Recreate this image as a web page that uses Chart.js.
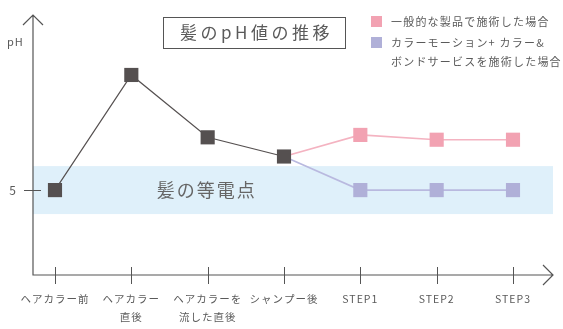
<!DOCTYPE html>
<html lang="ja">
<head>
<meta charset="utf-8">
<title>髪のpH値の推移</title>
<script src="https://cdn.jsdelivr.net/npm/chart.js@4/dist/chart.umd.min.js"></script>
<style>
  html, body { margin: 0; padding: 0; background: #fff; }
  #wrap { width: 563px; height: 329px; }
</style>
</head>
<body>
<div id="wrap"><canvas id="phChart" width="563" height="329"></canvas></div>
<script>
// Stages of the treatment (x axis)
const categories = [
  ['ヘアカラー前'],
  ['ヘアカラー', '直後'],
  ['ヘアカラーを', '流した直後'],
  ['シャンプー後'],
  ['STEP1'],
  ['STEP2'],
  ['STEP3']
];

// pH values per stage
const baseValues = [5, 7.4, 6.1, 5.7, null, null, null];
const regularValues = [null, null, null, 5.7, 6.15, 6.05, 6.05];
const bondValues = [null, null, null, 5.7, 5, 5, 5];

// y axis ticks and range
const yTicks = [5];
const yRange = [3.23, 8.65];
const xRange = [-0.288, 6.524];

// isoelectric band
const isoBand = [4.5, 5.5];
const isoLabel = '髪の等電点';

const chartTitle = '髪のpH値の推移';
const yAxisTitle = 'pH';
const legendLabels = [
  ['一般的な製品で施術した場合'],
  ['カラーモーション+ カラー&', 'ボンドサービスを施術した場合']
];

const FONT = '"Noto Sans CJK JP", "Noto Sans", sans-serif';
const TEXT = '#5a5a5a';
const AXIS = '#555555';

function toPoints(values) {
  const pts = [];
  values.forEach((v, i) => {
    if (v !== null) pts.push({ x: i, y: v });
  });
  return pts;
}

// pink/purple series start from the shared dark point, so hide their first marker
function hideFirst(values) {
  return toPoints(values).map((p, i) => (i === 0 ? 0 : 10));
}

const decorPlugin = {
  id: 'decor',
  beforeDraw(chart) {
    chart.ctx.letterSpacing = '1px';
  },
  beforeDatasetsDraw(chart) {
    const ctx = chart.ctx;
    const area = chart.chartArea;
    const y = chart.scales.y;
    const x = chart.scales.x;
    ctx.save();

    // isoelectric band
    const top = y.getPixelForValue(isoBand[1]);
    const bottom = y.getPixelForValue(isoBand[0]);
    ctx.fillStyle = '#dff0fa';
    ctx.fillRect(area.left, top, area.right - area.left, bottom - top);

    ctx.fillStyle = '#666666';
    ctx.font = '18px ' + FONT;
    ctx.letterSpacing = '2px';
    ctx.textAlign = 'center';
    ctx.textBaseline = 'middle';
    ctx.fillText(isoLabel, x.getPixelForValue(2) - 1, y.getPixelForValue(5));

    // axes with arrow heads
    ctx.strokeStyle = AXIS;
    ctx.lineWidth = 1.2;
    ctx.beginPath();
    ctx.moveTo(area.left, area.top);
    ctx.lineTo(area.left, area.bottom);
    ctx.lineTo(area.right, area.bottom);
    ctx.moveTo(area.left - 10, area.top + 10);
    ctx.lineTo(area.left, area.top);
    ctx.lineTo(area.left + 10, area.top + 10);
    ctx.moveTo(area.right - 10, area.bottom - 10);
    ctx.lineTo(area.right, area.bottom);
    ctx.lineTo(area.right - 10, area.bottom + 10);
    ctx.stroke();

    // tick marks crossing the axes
    ctx.lineWidth = 1;
    ctx.beginPath();
    x.ticks.forEach(t => {
      const px = Math.round(x.getPixelForValue(t.value)) + 0.5;
      ctx.moveTo(px, area.bottom - 8);
      ctx.lineTo(px, area.bottom + 9);
    });
    y.ticks.forEach(t => {
      const py = Math.round(y.getPixelForValue(t.value)) + 0.5;
      ctx.moveTo(area.left - 9, py);
      ctx.lineTo(area.left + 8, py);
    });
    ctx.stroke();

    // y axis title
    ctx.fillStyle = TEXT;
    ctx.font = '11px ' + FONT;
    ctx.letterSpacing = '1px';
    ctx.textAlign = 'left';
    ctx.fillText(yAxisTitle, 7, 42);

    // title box
    ctx.strokeStyle = '#555555';
    ctx.lineWidth = 1;
    ctx.strokeRect(163.5, 17.5, 182, 31);
    ctx.font = '17px ' + FONT;
    ctx.letterSpacing = '3.5px';
    ctx.fillText(chartTitle, 180, 33);

    // legend
    ctx.font = '11px ' + FONT;
    ctx.letterSpacing = '1.2px';
    const squares = [16, 37];
    chart.data.datasets.slice(1).forEach((ds, i) => {
      ctx.fillStyle = ds.pointBackgroundColor;
      ctx.fillRect(371, squares[i], 11, 11);
      ctx.fillStyle = TEXT;
      legendLabels[i].forEach((line, j) => {
        ctx.fillText(line, 391, squares[i] + 6 + j * 19);
      });
    });

    ctx.restore();
  }
};

const ctx = document.getElementById('phChart').getContext('2d');
const phChart = new Chart(ctx, {
  type: 'line',
  data: {
    datasets: [
      {
        label: 'ヘアカラー',
        data: toPoints(baseValues),
        borderColor: '#555050',
        borderWidth: 1.2,
        pointBackgroundColor: '#555050',
        pointBorderWidth: 0,
        pointStyle: 'rect',
        pointRadius: 10,
        tension: 0
      },
      {
        label: legendLabels[0].join(''),
        data: toPoints(regularValues),
        borderColor: '#f4b3c1',
        borderWidth: 1.6,
        pointBackgroundColor: '#f2a2b2',
        pointBorderWidth: 0,
        pointStyle: 'rect',
        pointRadius: hideFirst(regularValues),
        tension: 0
      },
      {
        label: legendLabels[1].join(''),
        data: toPoints(bondValues),
        borderColor: '#b9b9df',
        borderWidth: 1.6,
        pointBackgroundColor: '#b0b0d8',
        pointBorderWidth: 0,
        pointStyle: 'rect',
        pointRadius: hideFirst(bondValues),
        tension: 0
      }
    ]
  },
  options: {
    responsive: false,
    animation: false,
    devicePixelRatio: 1,
    layout: { padding: { top: 15, right: 10, left: 0, bottom: 0 } },
    plugins: {
      legend: { display: false },
      tooltip: { enabled: false }
    },
    scales: {
      x: {
        type: 'linear',
        min: xRange[0],
        max: xRange[1],
        grid: { display: false, drawTicks: false },
        border: { display: false },
        afterBuildTicks: scale => {
          scale.ticks = categories.map((c, i) => ({ value: i }));
        },
        afterFit: scale => { scale.height = 54; },
        ticks: {
          padding: 15,
          color: TEXT,
          font: { family: FONT, size: 10.5, lineHeight: 1.7 },
          maxRotation: 0,
          autoSkip: false,
          callback: value => categories[value]
        }
      },
      y: {
        min: yRange[0],
        max: yRange[1],
        grid: { display: false, drawTicks: false },
        border: { display: false },
        afterBuildTicks: scale => {
          scale.ticks = yTicks.map(v => ({ value: v }));
        },
        afterFit: scale => {
          scale.width = 33;
          scale.paddingTop = 0;
          scale.paddingBottom = 0;
        },
        ticks: {
          padding: 16,
          color: TEXT,
          font: { family: FONT, size: 12 }
        }
      }
    }
  },
  plugins: [decorPlugin]
});
</script>
</body>
</html>
